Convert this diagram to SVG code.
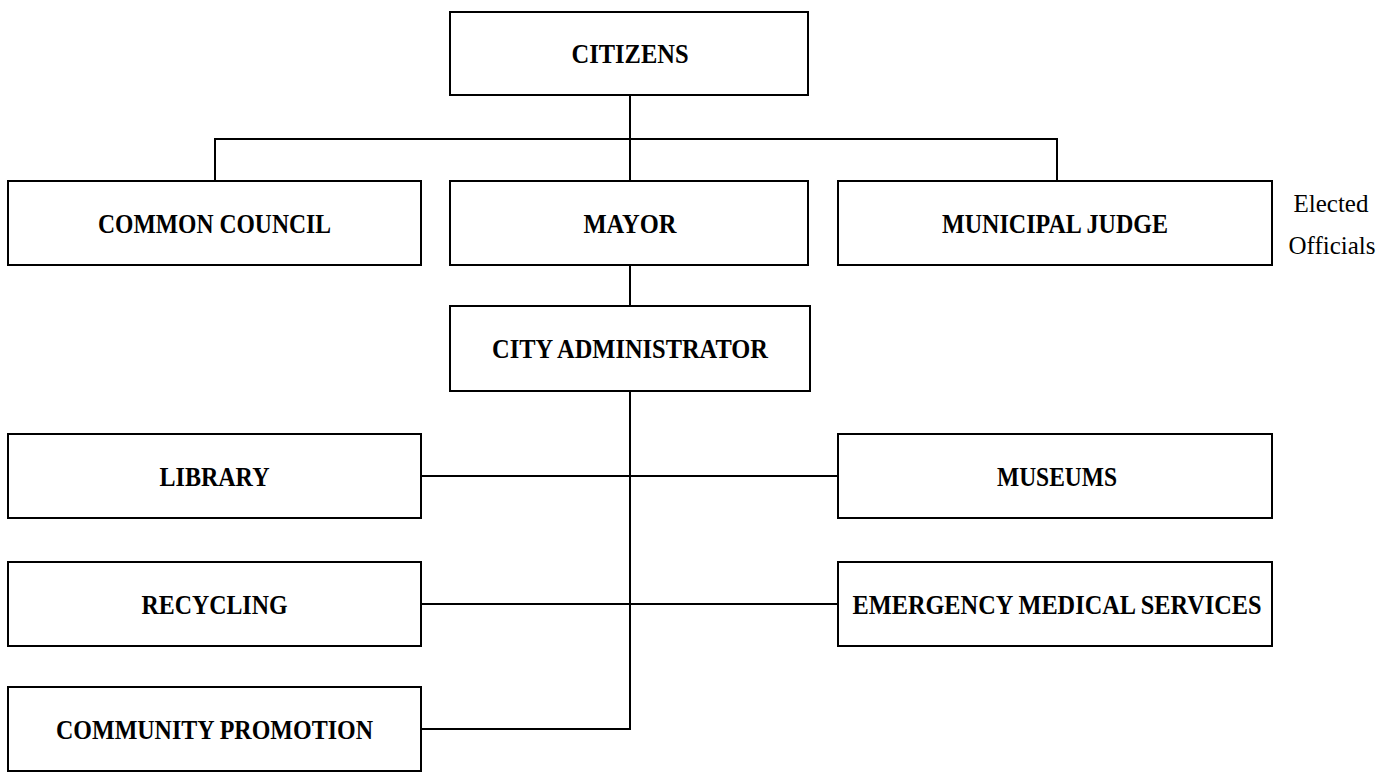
<svg xmlns="http://www.w3.org/2000/svg" width="1390" height="773" viewBox="0 0 1390 773">
<style>
.box{fill:#fff;stroke:#000;stroke-width:2}
.lbl{font-family:"Liberation Serif","Times New Roman",serif;font-weight:bold;font-size:28px;text-anchor:middle;fill:#000}
.note{font-family:"Liberation Serif","Times New Roman",serif;font-size:25px;text-anchor:middle;fill:#000}
.con{fill:none;stroke:#000;stroke-width:2}
</style>
<rect width="1390" height="773" fill="#fff"/>
<g id="connectors">
<path class="con" d="M630,95 V181"/>
<path class="con" d="M215,181 V139 H1057 V181"/>
<path class="con" d="M630,265 V306"/>
<path class="con" d="M630,391 V729 H421"/>
<path class="con" d="M421,476 H838"/>
<path class="con" d="M421,604 H838"/>
</g>
<g id="citizens"><rect class="box" x="450" y="12" width="358" height="83"/><text class="lbl" x="630" y="63" textLength="117" lengthAdjust="spacingAndGlyphs">CITIZENS</text></g>
<g id="common-council"><rect class="box" x="8" y="181" width="413" height="84"/><text class="lbl" x="214.5" y="232.5" textLength="233" lengthAdjust="spacingAndGlyphs">COMMON COUNCIL</text></g>
<g id="mayor"><rect class="box" x="450" y="181" width="358" height="84"/><text class="lbl" x="630" y="232.5" textLength="93" lengthAdjust="spacingAndGlyphs">MAYOR</text></g>
<g id="municipal-judge"><rect class="box" x="838" y="181" width="434" height="84"/><text class="lbl" x="1055" y="232.5" textLength="226" lengthAdjust="spacingAndGlyphs">MUNICIPAL JUDGE</text></g>
<g id="elected-officials"><text class="note" x="1331" y="212">Elected</text><text class="note" x="1332" y="254">Officials</text></g>
<g id="city-administrator"><rect class="box" x="450" y="306" width="360" height="85"/><text class="lbl" x="630" y="358" textLength="276" lengthAdjust="spacingAndGlyphs">CITY ADMINISTRATOR</text></g>
<g id="library"><rect class="box" x="8" y="434" width="413" height="84"/><text class="lbl" x="214.5" y="485.5" textLength="110" lengthAdjust="spacingAndGlyphs">LIBRARY</text></g>
<g id="museums"><rect class="box" x="838" y="434" width="434" height="84"/><text class="lbl" x="1057" y="485.5" textLength="120" lengthAdjust="spacingAndGlyphs">MUSEUMS</text></g>
<g id="recycling"><rect class="box" x="8" y="562" width="413" height="84"/><text class="lbl" x="214.5" y="613.5" textLength="146" lengthAdjust="spacingAndGlyphs">RECYCLING</text></g>
<g id="emergency-medical-services"><rect class="box" x="838" y="562" width="434" height="84"/><text class="lbl" x="1057" y="613.5" textLength="409" lengthAdjust="spacingAndGlyphs">EMERGENCY MEDICAL SERVICES</text></g>
<g id="community-promotion"><rect class="box" x="8" y="687" width="413" height="84"/><text class="lbl" x="214.5" y="738.5" textLength="317" lengthAdjust="spacingAndGlyphs">COMMUNITY PROMOTION</text></g>
</svg>
